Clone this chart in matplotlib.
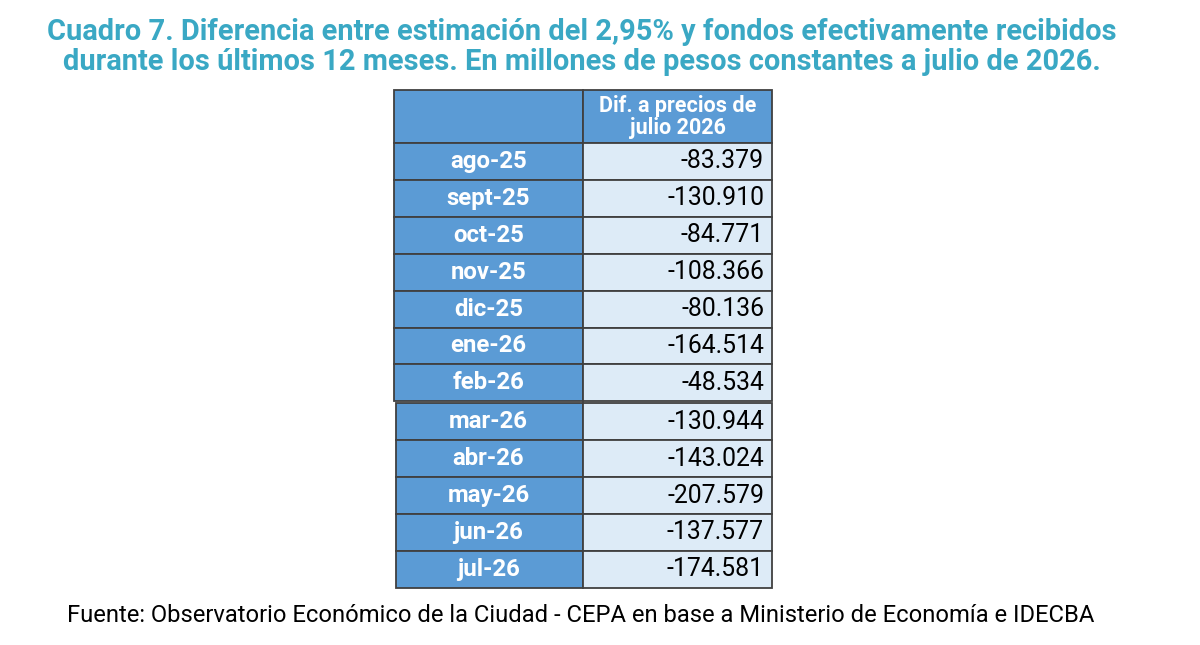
import matplotlib
matplotlib.use("Agg")
import matplotlib.pyplot as plt
from matplotlib.patches import Rectangle

months = ["ago-25","sept-25","oct-25","nov-25","dic-25","ene-26","feb-26",
          "mar-26","abr-26","may-26","jun-26","jul-26"]
values = ["-83.379","-130.910","-84.771","-108.366","-80.136","-164.514","-48.534",
          "-130.944","-143.024","-207.579","-137.577","-174.581"]
header = "Dif. a precios de\njulio 2026"
title = ("Cuadro 7. Diferencia entre estimación del 2,95% y fondos efectivamente recibidos\n"
         "durante los últimos 12 meses. En millones de pesos constantes a julio de 2026.")
source = "Fuente: Observatorio Económico de la Ciudad - CEPA en base a Ministerio de Economía e IDECBA"

plt.rcParams['font.family'] = ['Roboto', 'DejaVu Sans']
fig = plt.figure(figsize=(12, 6.45), dpi=100)
ax = fig.add_axes([0, 0, 1, 1])
ax.set_xlim(0, 1200); ax.set_ylim(645, 0); ax.axis('off')

blue = "#5B9BD5"; light = "#DDEBF7"; edge = "#404040"
x0, xm, x1 = 394, 583, 772
ax.add_patch(Rectangle((x0, 90), xm-x0, 53, fc=blue, ec=edge, lw=1.3))
ax.add_patch(Rectangle((xm, 90), x1-xm, 53, fc=blue, ec=edge, lw=1.3))
ax.text((xm+x1)/2, 117, header, ha='center', va='center', color='white',
        fontsize=15.5, fontweight='bold', linespacing=1.0)
rh = 36.9
for i, (m, v) in enumerate(zip(months, values)):
    off = 0 if i < 7 else 2
    yt = 143 + i*rh + off
    ax.add_patch(Rectangle((x0+off, yt), xm-x0-off, rh, fc=blue, ec=edge, lw=1.3))
    ax.add_patch(Rectangle((xm, yt), x1-xm, rh, fc=light, ec=edge, lw=1.3))
    ax.text((x0+xm)/2, yt+rh/2, m, ha='center', va='center', color='white',
            fontsize=17.3, fontweight='bold')
    ax.text(x1-8, yt+rh/2, v, ha='right', va='center', color='black', fontsize=17.8)

ax.text(582, 47, title, ha='center', va='center', color="#3AA8C4",
        fontsize=20.9, fontweight='bold', linespacing=1.1)
ax.text(67, 616, source, ha='left', va='center', color='black', fontsize=17.1)
fig.savefig("out.png", dpi=100, facecolor='white')
